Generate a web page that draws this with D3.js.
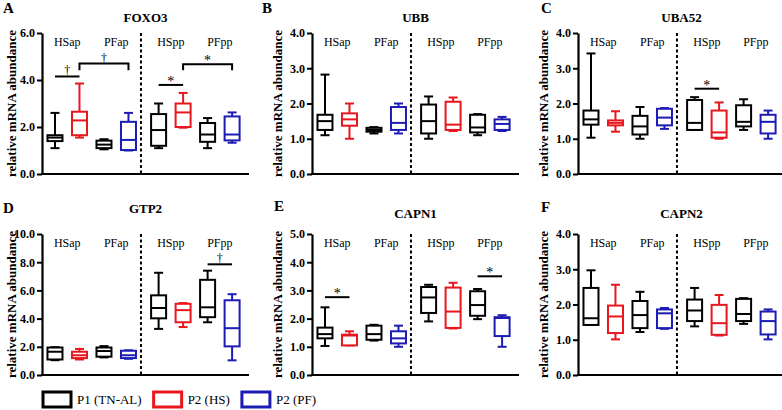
<!DOCTYPE html>
<html><head><meta charset="utf-8">
<script src="https://cdn.jsdelivr.net/npm/d3@7"></script>
<style>
body{margin:0;background:#fff}
svg{display:block}
text{font-family:"Liberation Serif","Times New Roman",serif;fill:#000}
</style>
</head><body>
<svg id="chart" width="782" height="410"></svg>
<script>
// ---------------- DATA ----------------
const groups = ["HSap", "PFap", "HSpp", "PFpp"];
const series = ["P1 (TN-AL)", "P2 (HS)", "P2 (PF)"];
const seriesColors = ["#000000", "#e8161d", "#1c1cb4"];
// box order in each panel: HSap P1, HSap P2(HS), PFap P1, PFap P2(PF), HSpp P1, HSpp P2(HS), PFpp P1, PFpp P2(PF)
const boxSeries = [0, 1, 0, 2, 0, 1, 0, 2];
const genes = ["FOXO3", "UBB", "UBA52", "GTP2", "CAPN1", "CAPN2"];
const panelLetters = ["A", "B", "C", "D", "E", "F"];
const yMaxes = [6, 4, 4, 10, 5, 4];
const yTickSteps = [2, 1, 1, 2, 1, 1];
const yTitle = "relative mRNA abundance";

// each box: [whisker low, Q1, median, Q3, whisker high]
const foxo3 = [
  [1.10, 1.40, 1.55, 1.65, 2.60],
  [1.55, 1.65, 2.28, 2.65, 3.85],
  [1.05, 1.10, 1.25, 1.42, 1.48],
  [1.00, 1.02, 1.45, 2.22, 2.60],
  [1.10, 1.20, 1.87, 2.55, 3.00],
  [1.97, 2.00, 2.62, 3.00, 3.45],
  [1.10, 1.37, 1.68, 2.17, 2.38],
  [1.33, 1.43, 1.68, 2.45, 2.62]
];
const ubb = [
  [1.10, 1.25, 1.50, 1.68, 2.82],
  [1.00, 1.37, 1.55, 1.72, 2.00],
  [1.15, 1.20, 1.25, 1.31, 1.33],
  [1.15, 1.25, 1.45, 1.90, 2.00],
  [1.00, 1.15, 1.50, 1.97, 2.20],
  [1.22, 1.25, 1.40, 2.05, 2.17],
  [1.10, 1.18, 1.32, 1.68, 1.70],
  [1.22, 1.25, 1.42, 1.55, 1.62]
];
const uba52 = [
  [1.03, 1.40, 1.55, 1.80, 3.42],
  [1.20, 1.38, 1.45, 1.52, 1.78],
  [1.00, 1.12, 1.35, 1.65, 1.90],
  [1.28, 1.38, 1.60, 1.85, 1.87],
  [1.25, 1.25, 1.45, 2.10, 2.18],
  [1.00, 1.03, 1.18, 1.80, 2.03],
  [1.25, 1.35, 1.48, 1.95, 2.12],
  [1.00, 1.15, 1.48, 1.68, 1.80]
];
const gtp2 = [
  [1.05, 1.10, 1.65, 1.95, 1.97],
  [1.10, 1.20, 1.40, 1.65, 1.85],
  [1.25, 1.30, 1.70, 1.95, 2.05],
  [1.15, 1.20, 1.40, 1.72, 1.75],
  [3.27, 4.02, 4.75, 5.65, 7.25],
  [3.40, 3.74, 4.60, 5.05, 5.10],
  [3.74, 4.10, 4.80, 6.75, 7.40],
  [1.04, 2.03, 3.32, 5.30, 5.73]
];
const capn1 = [
  [1.03, 1.30, 1.45, 1.68, 2.40],
  [1.05, 1.05, 1.40, 1.43, 1.55],
  [1.22, 1.25, 1.45, 1.75, 1.78],
  [1.00, 1.12, 1.30, 1.55, 1.75],
  [1.90, 2.20, 2.75, 3.12, 3.20],
  [1.65, 1.67, 2.25, 3.10, 3.27],
  [1.98, 2.10, 2.48, 2.97, 3.05],
  [1.00, 1.38, 2.02, 2.05, 2.12]
];
const capn2 = [
  [1.42, 1.42, 1.61, 2.47, 2.97],
  [1.01, 1.19, 1.66, 1.97, 2.56],
  [1.22, 1.33, 1.70, 2.10, 2.36],
  [1.31, 1.33, 1.75, 1.86, 1.90],
  [1.38, 1.53, 1.83, 2.14, 2.47],
  [1.12, 1.14, 1.47, 1.99, 2.27],
  [1.45, 1.53, 1.73, 2.16, 2.18],
  [1.01, 1.15, 1.53, 1.80, 1.86]
];

// significance marks: from box a to box b at level y (bracket legs go down to "leg")
const foxo3Sig = [
  {a: 0, b: 1, y: 4.15, sym: "†"},
  {a: 1, b: 3, y: 4.70, leg: 4.42, sym: "†"},
  {a: 4, b: 5, y: 3.79, sym: "*"},
  {a: 5, b: 7, y: 4.67, leg: 4.42, sym: "*"}
];
const ubbSig = [];
const uba52Sig = [{a: 4, b: 5, y: 2.42, sym: "*"}];
const gtp2Sig = [{a: 6, b: 7, y: 7.85, sym: "†"}];
const capn1Sig = [
  {a: 0, b: 1, y: 2.76, sym: "*"},
  {a: 6, b: 7, y: 3.50, sym: "*"}
];
const capn2Sig = [];

const panelBoxes = [foxo3, ubb, uba52, gtp2, capn1, capn2];
const panelSigs = [foxo3Sig, ubbSig, uba52Sig, gtp2Sig, capn1Sig, capn2Sig];

// ---------------- LAYOUT ----------------
const colX0 = [42, 312, 578];
const rowTop = [33, 234];
const plotW = 207, plotH = 141;
const slots = [0.53, 1.53, 2.53, 3.53, 4.76, 5.76, 6.76, 7.76];
const dividerSlot = 4.04;
const slotMax = 8.45;
const yTitleX = [11, 277, 543];
const letterPos = [[3, 13], [262, 13], [541, 13], [3, 213], [274, 211], [541, 212]];
const titleBase = [22, 22, 22, 213, 218, 218];

const svg = d3.select("#chart");
const boxHalf = 7.5, capHalf = 4.5, lw = 2;

panelBoxes.forEach((boxes, p) => {
  const col = p % 3, row = Math.floor(p / 3);
  const x0 = colX0[col], top = rowTop[row];
  const x = d3.scaleLinear().domain([0, slotMax]).range([x0, x0 + plotW]);
  const y = d3.scaleLinear().domain([0, yMaxes[p]]).range([top + plotH, top]);
  const g = svg.append("g");

  // letter and title
  g.append("text").attr("x", letterPos[p][0]).attr("y", letterPos[p][1])
    .attr("font-size", 15).attr("font-weight", "bold").attr("fill", "#000").text(panelLetters[p]);
  g.append("text").attr("x", x0 + plotW / 2).attr("y", titleBase[p])
    .attr("text-anchor", "middle").attr("font-size", 13).attr("font-weight", "bold")
    .attr("fill", "#000").text(genes[p]);

  // y axis
  const ticks = d3.range(0, yMaxes[p] + 1e-9, yTickSteps[p]);
  const ya = g.append("g").attr("transform", `translate(${x0},0)`)
    .call(d3.axisLeft(y).tickValues(ticks).tickFormat(d3.format(".1f")).tickSize(5).tickSizeOuter(0).tickPadding(2));
  ya.select(".domain").attr("stroke", "#000").attr("stroke-width", 2.2);
  ya.selectAll(".tick line").attr("stroke", "#000").attr("stroke-width", 2);
  ya.selectAll(".tick text").attr("font-family", "Liberation Serif, serif")
    .attr("font-weight", "bold").attr("font-size", 12).attr("fill", "#000");

  // x axis line
  g.append("line").attr("x1", x0 - 1.1).attr("x2", x0 + plotW)
    .attr("y1", y(0)).attr("y2", y(0)).attr("stroke", "#000").attr("stroke-width", 2.2);

  // y title
  g.append("text").attr("transform", `translate(${yTitleX[col]},${top + plotH / 2}) rotate(-90)`)
    .attr("text-anchor", "middle").attr("dy", "0.35em").attr("fill", "#000")
    .attr("font-size", 13).attr("font-weight", "bold").text(yTitle);

  // divider
  g.append("line").attr("x1", x(dividerSlot)).attr("x2", x(dividerSlot))
    .attr("y1", y(yMaxes[p])).attr("y2", y(0))
    .attr("stroke", "#000").attr("stroke-width", 2).attr("stroke-dasharray", "3,2.5");

  // group labels
  groups.forEach((name, k) => {
    g.append("text").attr("x", x((slots[2 * k] + slots[2 * k + 1]) / 2)).attr("y", top + 13)
      .attr("text-anchor", "middle").attr("font-size", 12).attr("fill", "#000").text(name);
  });

  // boxes
  boxes.forEach((d, i) => {
    const cx = x(slots[i]);
    const c = seriesColors[boxSeries[i]];
    const bg = g.append("g").attr("stroke", c).attr("stroke-width", lw).attr("fill", "none");
    bg.append("line").attr("x1", cx).attr("x2", cx).attr("y1", y(d[0])).attr("y2", y(d[1]));
    bg.append("line").attr("x1", cx).attr("x2", cx).attr("y1", y(d[3])).attr("y2", y(d[4]));
    bg.append("line").attr("x1", cx - capHalf).attr("x2", cx + capHalf).attr("y1", y(d[0])).attr("y2", y(d[0]));
    bg.append("line").attr("x1", cx - capHalf).attr("x2", cx + capHalf).attr("y1", y(d[4])).attr("y2", y(d[4]));
    bg.append("rect").attr("x", cx - boxHalf).attr("width", 2 * boxHalf)
      .attr("y", y(d[3])).attr("height", Math.max(0.5, y(d[1]) - y(d[3]))).attr("fill", "#fff");
    bg.append("line").attr("x1", cx - boxHalf).attr("x2", cx + boxHalf).attr("y1", y(d[2])).attr("y2", y(d[2]));
  });

  // significance marks
  panelSigs[p].forEach(s => {
    const xa = x(slots[s.a]), xb = x(slots[s.b]), yy = y(s.y);
    const sg = g.append("g").attr("stroke", "#000").attr("stroke-width", lw).attr("fill", "none");
    if (s.leg !== undefined) {
      sg.append("path").attr("d", `M${xa},${y(s.leg)}V${yy}H${xb}V${y(s.leg)}`);
    } else {
      sg.append("line").attr("x1", xa).attr("x2", xb).attr("y1", yy).attr("y2", yy);
    }
    g.append("text").attr("x", (xa + xb) / 2).attr("y", yy - (s.sym === "*" ? -1 : 2))
      .attr("text-anchor", "middle").attr("font-size", s.sym === "*" ? 14 : 12)
      .attr("fill", "#000").attr("stroke", "none").text(s.sym);
  });
});

// ---------------- LEGEND ----------------
let lx = 43;
const legY = 392, legW = 28, legH = 15;
series.forEach((name, i) => {
  svg.append("rect").attr("x", lx).attr("y", legY).attr("width", legW).attr("height", legH)
    .attr("fill", "none").attr("stroke", seriesColors[i]).attr("stroke-width", 3);
  const t = svg.append("text").attr("x", lx + legW + 6).attr("y", legY + legH / 2).attr("dy", "0.35em")
    .attr("font-size", 13).attr("fill", "#000").text(name);
  lx = lx + legW + 6 + t.node().getComputedTextLength() + 12;
});
</script>
</body></html>
